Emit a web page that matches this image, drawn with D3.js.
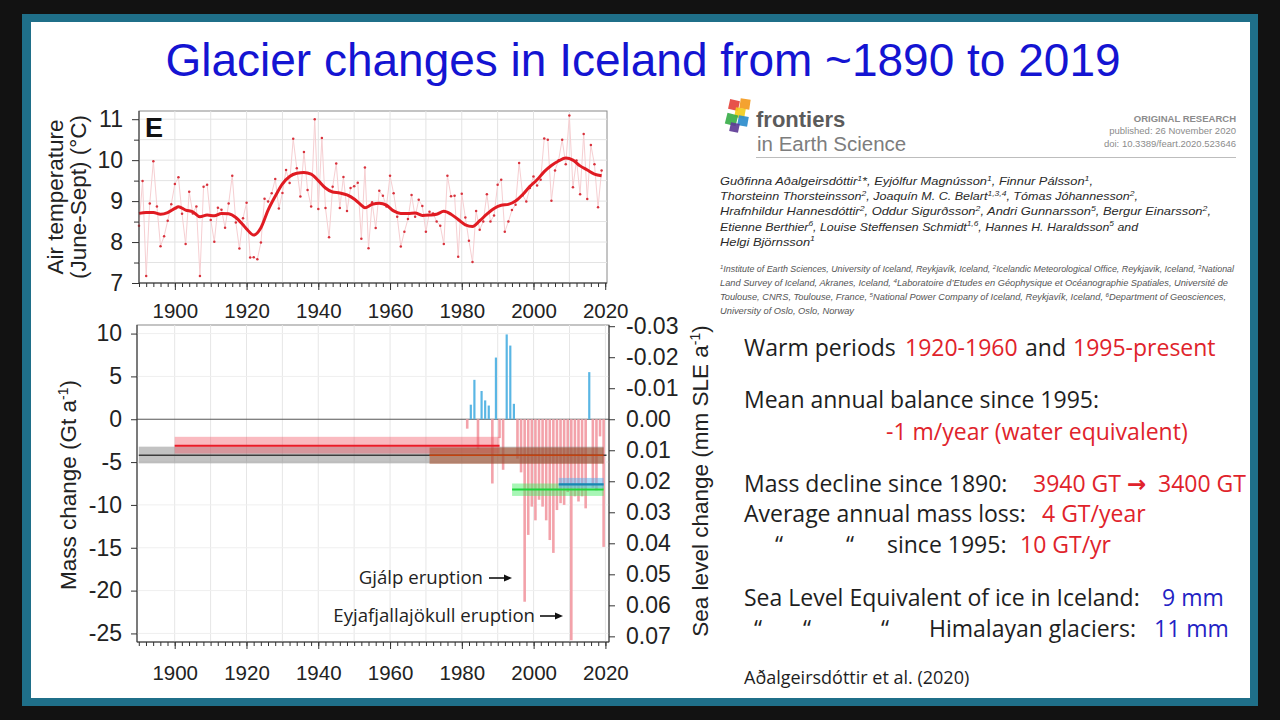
<!DOCTYPE html>
<html>
<head>
<meta charset="utf-8">
<script src="https://cdn.jsdelivr.net/npm/d3@7"></script>
<style>
  body { margin: 0; background: #111; }
  svg { display: block; }
</style>
</head>
<body>
<svg id="slide" width="1280" height="720"></svg>
<script>
// ---- data ----

// summer (June-Sept) air temperature, one value per year 1890..2019
const tempYears = d3.range(1890, 2020);
const tempValues = [
  8.40, 9.49, 7.17, 8.94, 9.97, 8.87, 7.90, 8.14, 8.52, 8.92,
  9.42, 9.58, 8.69, 7.95, 9.23, 8.70, 8.87, 7.17, 9.35, 9.40,
  8.54, 8.01, 8.84, 8.79, 8.35, 8.94, 9.62, 8.48, 7.84, 8.58,
  8.96, 7.62, 7.63, 7.58, 7.99, 9.06, 8.99, 9.19, 9.54, 8.82,
  9.20, 9.76, 9.44, 10.52, 9.80, 9.11, 10.20, 9.27, 8.87, 11.00,
  8.81, 10.54, 8.83, 8.12, 9.35, 9.92, 8.83, 9.59, 8.76, 9.32,
  9.36, 9.45, 8.08, 9.82, 7.85, 8.97, 8.34, 9.25, 9.13, 8.87,
  9.62, 9.19, 8.62, 7.89, 8.25, 8.56, 9.15, 8.62, 9.03, 8.88,
  8.25, 8.74, 8.70, 8.50, 8.40, 7.95, 9.62, 9.12, 9.13, 7.64,
  9.18, 8.60, 8.03, 7.51, 8.76, 8.30, 8.50, 9.17, 8.50, 8.65,
  9.40, 9.52, 8.25, 8.50, 8.78, 8.91, 9.93, 9.14, 8.99, 9.32,
  9.60, 9.38, 9.52, 10.53, 10.50, 9.01, 9.75, 10.00, 10.50, 9.90,
  11.09, 9.34, 9.99, 9.17, 10.64, 9.05, 10.37, 9.90, 8.85, 9.75
];

// smoothed temperature curve, read at these years
const smoothYears = [1890, 1892, 1894, 1896, 1898, 1900, 1901, 1903, 1905, 1907, 1909, 1911, 1913, 1915, 1917, 1919,
  1920, 1922, 1924, 1926, 1928, 1930, 1932, 1934, 1936, 1938, 1940, 1942, 1944, 1946, 1948, 1950, 1952, 1953,
  1955, 1957, 1959, 1961, 1963, 1965, 1967, 1969, 1971, 1973, 1975, 1977, 1979, 1981, 1983, 1985, 1987, 1989,
  1991, 1993, 1995, 1997, 1999, 2001, 2003, 2005, 2007, 2009, 2011, 2013, 2015, 2017, 2019];
const smoothValues = [8.70, 8.72, 8.72, 8.68, 8.72, 8.82, 8.86, 8.78, 8.74, 8.62, 8.66, 8.64, 8.70, 8.69, 8.60, 8.42,
  8.32, 8.17, 8.35, 8.78, 9.12, 9.42, 9.60, 9.68, 9.70, 9.66, 9.50, 9.32, 9.22, 9.20, 9.15, 9.05, 8.90, 8.84,
  8.92, 8.95, 8.90, 8.76, 8.70, 8.70, 8.71, 8.65, 8.66, 8.68, 8.75, 8.68, 8.55, 8.42, 8.38, 8.52, 8.68, 8.82,
  8.90, 8.92, 9.00, 9.16, 9.36, 9.52, 9.72, 9.87, 9.98, 10.05, 10.00, 9.86, 9.76, 9.66, 9.62];

// annual glacier mass change (Gt a-1)
const massYears = [1981, 1982, 1983, 1984, 1985, 1986, 1987, 1988, 1989, 1990, 1991, 1992, 1993, 1994,
  1995, 1996, 1997, 1998, 1999, 2000, 2001, 2002, 2003, 2004, 2005, 2006, 2007, 2008, 2009, 2010,
  2011, 2012, 2013, 2014, 2015, 2016, 2017, 2018, 2019];
const massValues = [-1.1, 1.7, 4.6, -3.5, 3.3, 2.2, 1.6, -7.5, 7.2, -2.2, -5.9, 9.9, 8.6, 1.8,
  -4.6, -6.2, -21.3, -13.5, -10.2, -11.8, -9.4, -10.2, -11.8, -14.1, -15.6, -10.6, -9.8, -10.0, -8.5, -25.8,
  -9.0, -9.6, -9.0, -10.4, 5.5, -8.0, -8.3, -2.0, -14.9];

// period means with uncertainty (Gt a-1)
const periodNames = ['all', 'early', 'recent', 'green', 'blue'];
const periodStart = [1890, 1900, 1971, 1994, 2007];
const periodEnd   = [2019, 1990, 2019, 2019, 2019];
const periodMean  = [-4.2, -3.1, -4.2, -8.2, -7.6];
const periodLow   = [-5.15, -4.0, -5.2, -8.95, -8.05];
const periodHigh  = [-3.2, -2.05, -3.3, -7.5, -6.85];

const yearTicks = [1900, 1920, 1940, 1960, 1980, 2000, 2020];
const tempTicks = [7, 8, 9, 10, 11];
const massTicks = [10, 5, 0, -5, -10, -15, -20, -25];
const sleTicks = [-0.03, -0.02, -0.01, 0.00, 0.01, 0.02, 0.03, 0.04, 0.05, 0.06, 0.07];
const GT_PER_MM = 362;

const svg = d3.select('#slide');
const FONT = 'Liberation Sans, Arial, sans-serif';
const TEXT_FONT = 'Open Sans, sans-serif';

// ---- slide frame ----
svg.append('rect').attr('width', 1280).attr('height', 720).attr('fill', '#121212');
svg.append('rect').attr('x', 22).attr('y', 14).attr('width', 1236).attr('height', 692).attr('fill', '#1f6f89');
svg.append('rect').attr('x', 31).attr('y', 22).attr('width', 1219).attr('height', 676).attr('fill', '#ffffff');

svg.append('text')
  .attr('x', 643).attr('y', 76)
  .attr('text-anchor', 'middle')
  .style('font-family', FONT).style('font-size', '46px')
  .attr('fill', '#1414d2')
  .text('Glacier changes in Iceland from ~1890 to 2019');

function styleAxis(g, size) {
  g.select('.domain').remove();
  g.selectAll('line').attr('stroke', '#333');
  g.selectAll('text').style('font-family', FONT).style('font-size', size + 'px').attr('fill', '#222');
}

// ---- top panel: air temperature ----
const xT = d3.scaleLinear().domain([1890, 2020.5]).range([139, 607]);
const yT = d3.scaleLinear().domain([7, 11.2]).range([283, 111]);
const tempPanel = svg.append('g');

tempPanel.append('rect').attr('x', 139).attr('y', 111).attr('width', 468).attr('height', 172)
  .attr('fill', '#fff').attr('stroke', '#8a8a8a');

tempPanel.append('g').selectAll('line').data(d3.range(1900, 2020, 10)).join('line')
  .attr('x1', d => xT(d)).attr('x2', d => xT(d)).attr('y1', 111).attr('y2', 283)
  .attr('stroke', '#e3e3e3');
tempPanel.append('g').selectAll('line').data(d3.range(7.5, 11.1, 0.5)).join('line')
  .attr('x1', 139).attr('x2', 607).attr('y1', d => yT(d)).attr('y2', d => yT(d))
  .attr('stroke', '#e3e3e3');

// thin line joining the yearly values
tempPanel.append('path')
  .datum(tempValues)
  .attr('fill', 'none').attr('stroke', '#f6cfd2').attr('stroke-width', 1)
  .attr('d', d3.line().x((d, i) => xT(tempYears[i])).y(d => yT(d)));

tempPanel.append('g').selectAll('circle').data(tempValues).join('circle')
  .attr('cx', (d, i) => xT(tempYears[i])).attr('cy', d => yT(d)).attr('r', 1.25)
  .attr('fill', '#d8323c');

tempPanel.append('path')
  .datum(smoothValues)
  .attr('fill', 'none').attr('stroke', '#e01b22').attr('stroke-width', 3)
  .attr('d', d3.line().curve(d3.curveMonotoneX).x((d, i) => xT(smoothYears[i])).y(d => yT(d)));

tempPanel.append('line').attr('x1', 139).attr('x2', 139).attr('y1', 111).attr('y2', 283).attr('stroke', '#333');
tempPanel.append('line').attr('x1', 139).attr('x2', 607).attr('y1', 283).attr('y2', 283).attr('stroke', '#333');

tempPanel.append('g').attr('transform', 'translate(0,283)')
  .call(d3.axisBottom(xT).tickValues(d3.range(1890, 2021, 2)).tickSize(4).tickFormat(''))
  .call(g => styleAxis(g, 20));
tempPanel.append('g').attr('transform', 'translate(0,283)')
  .call(d3.axisBottom(xT).tickValues(yearTicks).tickSize(7).tickPadding(13).tickFormat(d3.format('d')))
  .call(g => styleAxis(g, 20.5));
tempPanel.append('g').attr('transform', 'translate(139,0)')
  .call(d3.axisLeft(yT).tickValues(d3.range(7.5, 11, 1)).tickSize(5).tickFormat(''))
  .call(g => styleAxis(g, 21));
tempPanel.append('g').attr('transform', 'translate(139,0)')
  .call(d3.axisLeft(yT).tickValues(tempTicks).tickSize(7).tickPadding(9).tickFormat(d => String(d)))
  .call(g => styleAxis(g, 23));

tempPanel.append('text').attr('x', 145).attr('y', 137)
  .style('font-family', FONT).style('font-size', '27px').style('font-weight', 'bold')
  .attr('fill', '#111').text('E');

tempPanel.append('text').attr('transform', 'translate(63,197) rotate(-90)')
  .attr('text-anchor', 'middle').style('font-family', FONT).style('font-size', '22.5px')
  .attr('fill', '#222').text('Air temperature');
tempPanel.append('text').attr('transform', 'translate(86,197) rotate(-90)')
  .attr('text-anchor', 'middle').style('font-family', FONT).style('font-size', '22.5px')
  .attr('fill', '#222').text('(June-Sept) (°C)');

// ---- bottom panel: mass change ----
const xB = d3.scaleLinear().domain([1889.5, 2021]).range([137, 609]);
const yB = d3.scaleLinear().domain([-26, 11]).range([642, 325]);
const yS = d3.scaleLinear().domain([11 / -GT_PER_MM, -26 / -GT_PER_MM]).range([325, 642]);
const massPanel = svg.append('g');

massPanel.append('rect').attr('x', 137).attr('y', 325).attr('width', 472).attr('height', 317)
  .attr('fill', '#fff').attr('stroke', '#8a8a8a');
massPanel.append('g').selectAll('line').data(d3.range(1900, 2021, 10)).join('line')
  .attr('x1', d => xB(d)).attr('x2', d => xB(d)).attr('y1', 325).attr('y2', 642)
  .attr('stroke', '#e6e6e6');
massPanel.append('g').selectAll('line').data(massTicks.filter(d => d !== 0)).join('line')
  .attr('x1', 137).attr('x2', 609).attr('y1', d => yB(d)).attr('y2', d => yB(d))
  .attr('stroke', '#efefef');
massPanel.append('line').attr('x1', 137).attr('x2', 609).attr('y1', yB(0)).attr('y2', yB(0))
  .attr('stroke', '#555').attr('stroke-width', 1);

// yearly bars
massPanel.append('g').selectAll('line').data(massValues).join('line')
  .attr('x1', (d, i) => xB(massYears[i] + 0.5)).attr('x2', (d, i) => xB(massYears[i] + 0.5))
  .attr('y1', yB(0)).attr('y2', d => yB(d))
  .attr('stroke', d => d > 0 ? '#5ab6e4' : '#f3a2aa')
  .attr('stroke-width', d => d > 0 ? 2.2 : 2.6);

// period means: translucent band plus mean line
const bandFill = ['rgba(120,120,120,0.45)', 'rgba(242,90,105,0.42)', 'rgba(165,70,30,0.5)',
  'rgba(60,235,90,0.45)', 'rgba(90,175,240,0.5)'];
const lineColor = ['#3c3c3c', '#ea1c28', '#c4420e', '#1fd43c', '#1787b4'];
const lineWidth = [1.5, 2, 1.6, 2.2, 2.2];
periodNames.forEach((name, i) => {
  massPanel.append('rect')
    .attr('x', xB(periodStart[i])).attr('width', xB(periodEnd[i] + 0.5) - xB(periodStart[i]))
    .attr('y', yB(periodHigh[i])).attr('height', yB(periodLow[i]) - yB(periodHigh[i]))
    .attr('fill', bandFill[i]);
  massPanel.append('line')
    .attr('x1', xB(periodStart[i])).attr('x2', xB(periodEnd[i] + (name === 'all' ? 1.3 : 0.5)))
    .attr('y1', yB(periodMean[i])).attr('y2', yB(periodMean[i]))
    .attr('stroke', lineColor[i]).attr('stroke-width', lineWidth[i]);
});

massPanel.append('line').attr('x1', 137).attr('x2', 137).attr('y1', 325).attr('y2', 642).attr('stroke', '#333');
massPanel.append('line').attr('x1', 609).attr('x2', 609).attr('y1', 325).attr('y2', 642).attr('stroke', '#333');
massPanel.append('line').attr('x1', 137).attr('x2', 609).attr('y1', 642).attr('y2', 642).attr('stroke', '#333');

massPanel.append('g').attr('transform', 'translate(0,642)')
  .call(d3.axisBottom(xB).tickValues(d3.range(1890, 2021, 2)).tickSize(4).tickFormat(''))
  .call(g => styleAxis(g, 20));
massPanel.append('g').attr('transform', 'translate(0,642)')
  .call(d3.axisBottom(xB).tickValues(yearTicks).tickSize(7).tickPadding(16).tickFormat(d3.format('d')))
  .call(g => styleAxis(g, 20.5));
massPanel.append('g').attr('transform', 'translate(137,0)')
  .call(d3.axisLeft(yB).tickValues(massTicks).tickSize(6).tickPadding(9).tickFormat(d => String(d)))
  .call(g => styleAxis(g, 23));
massPanel.append('g').attr('transform', 'translate(609,0)')
  .call(d3.axisRight(yS).tickValues(sleTicks).tickSize(6).tickPadding(11).tickFormat(d => d.toFixed(2)))
  .call(g => styleAxis(g, 23));

function rotatedLabel(g, x, y, main, sup, tail) {
  const t = g.append('text').attr('transform', `translate(${x},${y}) rotate(-90)`)
    .attr('text-anchor', 'middle').style('font-family', FONT).style('font-size', '22.5px').attr('fill', '#222');
  t.append('tspan').text(main);
  t.append('tspan').attr('dy', -8).style('font-size', '14px').text(sup);
  t.append('tspan').attr('dy', 8).text(tail);
}
rotatedLabel(massPanel, 76, 485, 'Mass change (Gt a', '-1', ')');
rotatedLabel(massPanel, 708, 481, 'Sea level change (mm SLE a', '-1', ')');

// eruption notes
function note(text, xEnd, y, x1, x2) {
  massPanel.append('text').attr('x', xEnd).attr('y', y + 6).attr('text-anchor', 'end')
    .style('font-family', TEXT_FONT).style('font-size', '18.6px').attr('fill', '#222').text(text);
  massPanel.append('line').attr('x1', x1).attr('x2', x2 - 6).attr('y1', y).attr('y2', y)
    .attr('stroke', '#111').attr('stroke-width', 1.6);
  massPanel.append('path').attr('d', `M${x2},${y} L${x2 - 8},${y - 3.5} L${x2 - 8},${y + 3.5} Z`).attr('fill', '#111');
}
note('Gjálp eruption', 483, 578, 489, 512);
note('Eyjafjallajökull eruption', 535, 616, 540, 563);

// ---- paper header ----
const hdr = svg.append('g');
const logo = [
  { x: 729, y: 100, s: 10, r: 12, c: '#e5443c' },
  { x: 740, y: 99, s: 10, r: 8, c: '#f39a1e' },
  { x: 735, y: 108, s: 10, r: 10, c: '#f2cc1c' },
  { x: 726, y: 114, s: 11, r: 14, c: '#3aae4a' },
  { x: 738, y: 116, s: 10, r: 10, c: '#2b8ccc' },
  { x: 730, y: 123, s: 9, r: 12, c: '#5e3b96' }
];
logo.forEach(b => hdr.append('rect')
  .attr('x', b.x).attr('y', b.y).attr('width', b.s).attr('height', b.s)
  .attr('transform', `rotate(${b.r},${b.x + b.s / 2},${b.y + b.s / 2})`)
  .attr('fill', b.c).attr('opacity', 0.92));

hdr.append('text').attr('x', 756).attr('y', 127)
  .style('font-family', FONT).style('font-size', '22px').style('font-weight', 'bold')
  .attr('fill', '#5b5b5b').text('frontiers');
hdr.append('text').attr('x', 757).attr('y', 151)
  .style('font-family', FONT).style('font-size', '20.5px')
  .attr('fill', '#7d7d7d').text('in Earth Science');

[['ORIGINAL RESEARCH', 122, 'bold'], ['published: 26 November 2020', 133.5, 'normal'],
 ['doi: 10.3389/feart.2020.523646', 146.5, 'normal']].forEach(r => {
  hdr.append('text').attr('x', 1236).attr('y', r[1]).attr('text-anchor', 'end')
    .style('font-family', FONT).style('font-size', '9.5px').style('font-weight', r[2])
    .attr('fill', '#8c8c8c').text(r[0]);
});
hdr.append('line').attr('x1', 756).attr('x2', 1236).attr('y1', 157.5).attr('y2', 157.5)
  .attr('stroke', '#bdbdbd').attr('stroke-width', 1);

// text with ^{...} superscripts
function supText(g, x, y, str, size, fill, width) {
  const t = g.append('text').attr('x', x).attr('y', y)
    .style('font-family', FONT).style('font-size', size + 'px').style('font-style', 'italic')
    .attr('fill', fill);
  const bits = str.split(/\^\{([^}]*)\}/);
  let up = false;
  bits.forEach((b, i) => {
    if (!b.length) return;
    const sup = i % 2 === 1;
    const s = t.append('tspan').text(b);
    if (sup) { s.attr('dy', up ? 0 : -size * 0.38).style('font-size', (size * 0.68) + 'px'); up = true; }
    else { if (up) s.attr('dy', size * 0.38); up = false; }
  });
  if (width) t.attr('textLength', width).attr('lengthAdjust', 'spacingAndGlyphs');
  return t;
}

const authors = [
  'Guðfinna Aðalgeirsdóttir^{1}*, Eyjólfur Magnússon^{1}, Finnur Pálsson^{1},',
  'Thorsteinn Thorsteinsson^{2}, Joaquín M. C. Belart^{1,3,4}, Tómas Jóhannesson^{2},',
  'Hrafnhildur Hannesdóttir^{2}, Oddur Sigurðsson^{2}, Andri Gunnarsson^{5}, Bergur Einarsson^{2},',
  'Etienne Berthier^{6}, Louise Steffensen Schmidt^{1,6}, Hannes H. Haraldsson^{5} and',
  'Helgi Björnsson^{1}'
];
const authorWidth = [373, 418, 491, 418, 95];
authors.forEach((a, i) => supText(hdr, 720, 185 + i * 15.2, a, 11.5, '#2a2a2a', authorWidth[i]));

const affils = [
  '^{1}Institute of Earth Sciences, University of Iceland, Reykjavík, Iceland, ^{2}Icelandic Meteorological Office, Reykjavik, Iceland, ^{3}National',
  'Land Survey of Iceland, Akranes, Iceland, ^{4}Laboratoire d\u2019Etudes en Géophysique et Océanographie Spatiales, Université de',
  'Toulouse, CNRS, Toulouse, France, ^{5}National Power Company of Iceland, Reykjavík, Iceland, ^{6}Department of Geosciences,',
  'University of Oslo, Oslo, Norway'
];
const affilWidth = [514, 508, 506, 134];
affils.forEach((a, i) => supText(hdr, 720, 272 + i * 14, a, 8.5, '#555', affilWidth[i]));

// ---- key numbers ----
const RED = '#e0232b', BLUE = '#2323c4', INK = '#1e1e1e';
const notes = svg.append('g').style('font-family', TEXT_FONT).style('font-size', '23px');
function textLine(y, parts) {
  const t = notes.append('text').attr('y', y);
  parts.forEach(p => {
    const s = t.append('tspan').attr('fill', p.c || INK).text(p.t);
    if (p.x != null) s.attr('x', p.x);
    if (p.f) s.style('font-family', p.f).style('font-weight', 'bold');
  });
}
textLine(356, [{ t: 'Warm periods', x: 744 }, { t: '1920-1960', x: 905, c: RED }, { t: 'and', x: 1025 }, { t: '1995-present', x: 1073, c: RED }]);
textLine(408, [{ t: 'Mean annual balance since 1995:', x: 744 }]);
textLine(440, [{ t: '-1 m/year (water equivalent)', x: 886, c: RED }]);
textLine(492, [{ t: 'Mass decline since 1890:', x: 744 }, { t: '3940 GT', x: 1033, c: RED },
  { t: '\u2192', x: 1127, c: RED, f: 'DejaVu Sans' }, { t: '3400 GT', x: 1158, c: RED }]);
textLine(522, [{ t: 'Average annual mass loss:', x: 744 }, { t: '4 GT/year', x: 1042, c: RED }]);
textLine(553, [{ t: '\u201C', x: 775 }, { t: '\u201C', x: 846 }, { t: 'since 1995:', x: 887 }, { t: '10 GT/yr', x: 1020, c: RED }]);
textLine(606, [{ t: 'Sea Level Equivalent of ice in Iceland:', x: 744 }, { t: '9 mm', x: 1162, c: BLUE }]);
textLine(637, [{ t: '\u201C', x: 754 }, { t: '\u201C', x: 803 }, { t: '\u201C', x: 881 }, { t: 'Himalayan glaciers:', x: 929 }, { t: '11 mm', x: 1154, c: BLUE }]);

notes.append('text').attr('x', 744).attr('y', 684).style('font-size', '18px').attr('fill', INK)
  .text('Aðalgeirsdóttir et al. (2020)');
</script>
</body>
</html>
